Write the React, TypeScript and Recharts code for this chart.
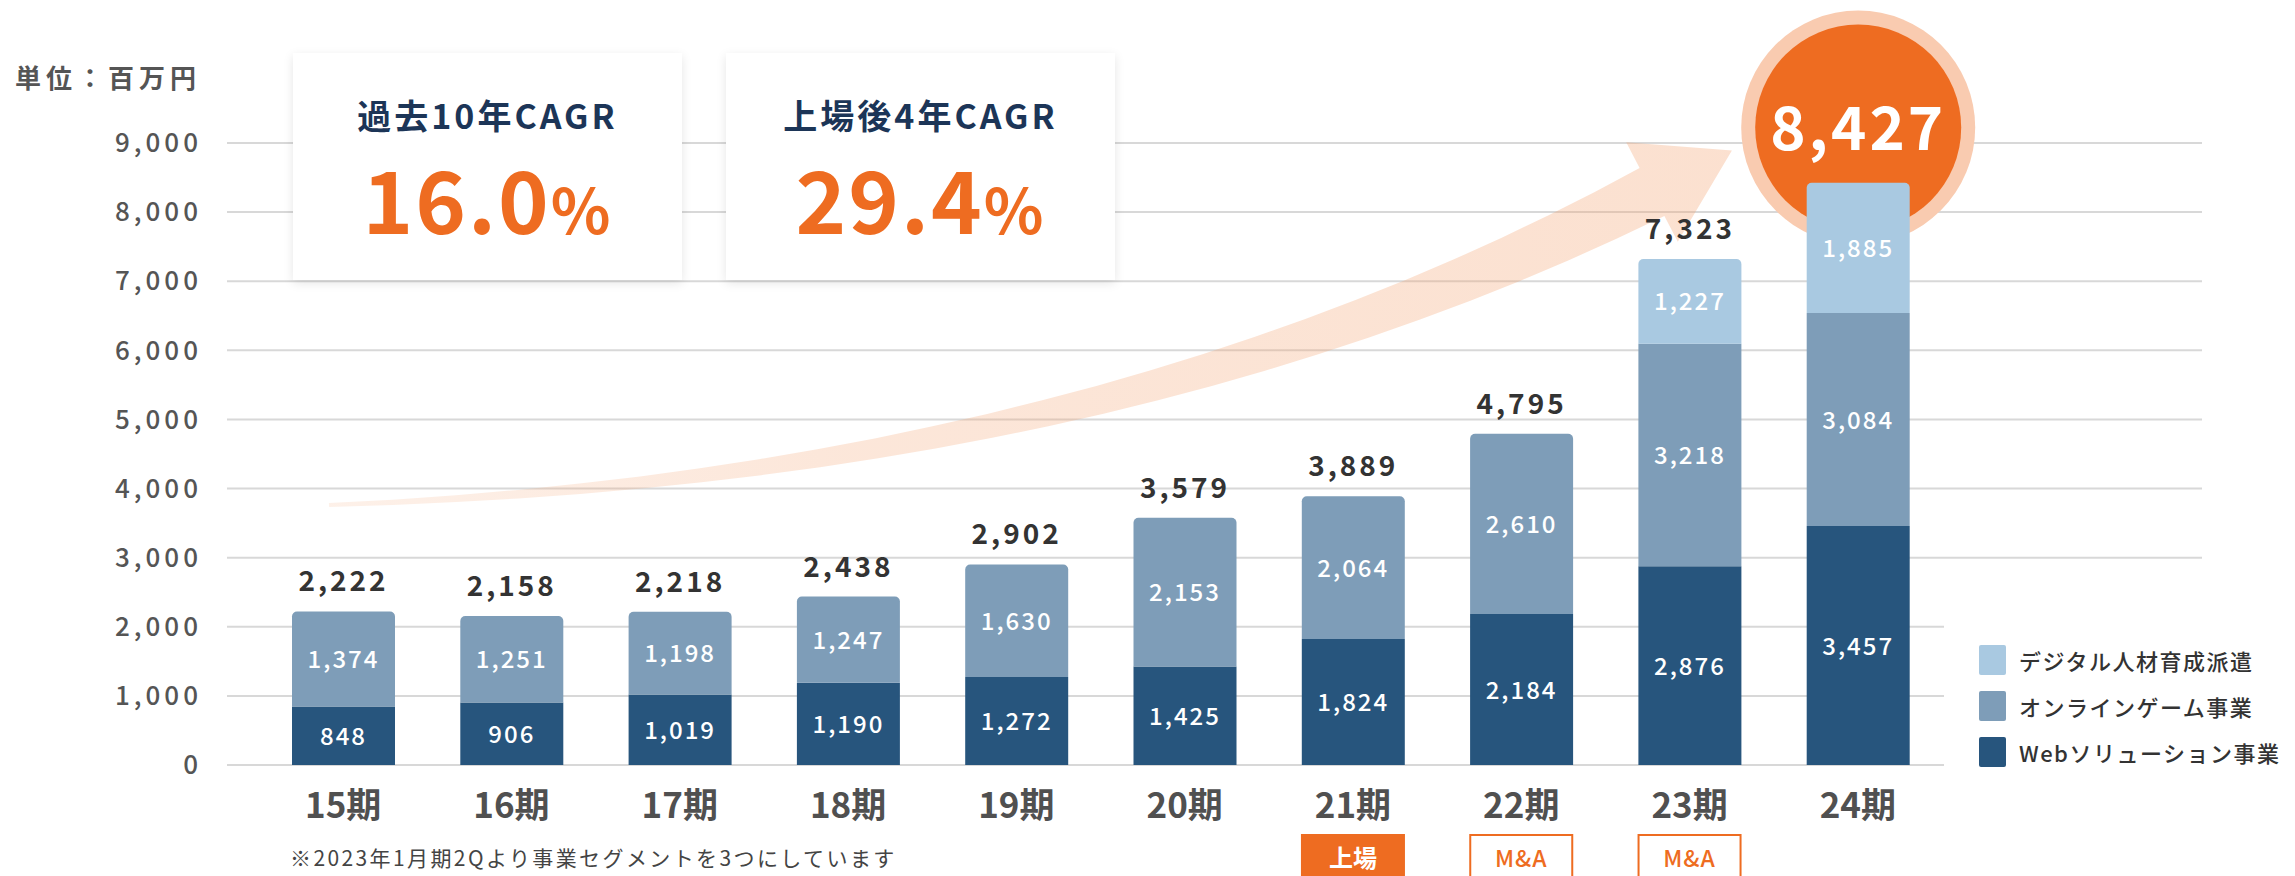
import React from 'react';
import { BarChart, Bar, XAxis, YAxis, CartesianGrid, LabelList, Rectangle } from 'recharts';

const periods = ['15期', '16期', '17期', '18期', '19期', '20期', '21期', '22期', '23期', '24期'];
const webSolution = [848, 906, 1019, 1190, 1272, 1425, 1824, 2184, 2876, 3457];
const onlineGame = [1374, 1251, 1198, 1247, 1630, 2153, 2064, 2610, 3218, 3084];
const digitalTalent = [0, 0, 0, 0, 0, 0, 0, 0, 1227, 1885];
const totals = [2222, 2158, 2218, 2438, 2902, 3579, 3889, 4795, 7323, 8427];
const milestones = ['', '', '', '', '', '', '上場', 'M&A', 'M&A', ''];
const yTicks = [0, 1000, 2000, 3000, 4000, 5000, 6000, 7000, 8000, 9000];

const seriesNames = ['デジタル人材育成派遣', 'オンラインゲーム事業', 'Webソリューション事業'];
const cagrTitles = ['過去10年CAGR', '上場後4年CAGR'];
const cagrValues = ['16.0', '29.4'];

const FONT = '"Noto Sans CJK JP", "Noto Sans", sans-serif';
const C_WEB = '#27557d';
const C_GAME = '#7e9db8';
const C_DIGI = '#a9c9e1';
const ORANGE = '#ee6c21';

const data = periods.map((p, i) => ({
  period: p,
  web: webSolution[i],
  game: onlineGame[i],
  digital: digitalTalent[i],
  total: totals[i],
}));

const fmt = (v: number) => v.toLocaleString('en-US');

// decorative growth arrow (not data)
const arrowPath = () => {
  const P0 = [329, 505], P1 = [1100, 478], P2 = [1652, 192];
  const up: number[][] = [], lo: number[][] = [];
  for (let i = 0; i <= 24; i++) {
    const t = i / 24, mt = 1 - t;
    const x = mt * mt * P0[0] + 2 * mt * t * P1[0] + t * t * P2[0];
    const y = mt * mt * P0[1] + 2 * mt * t * P1[1] + t * t * P2[1];
    const dx = 2 * mt * (P1[0] - P0[0]) + 2 * t * (P2[0] - P1[0]);
    const dy = 2 * mt * (P1[1] - P0[1]) + 2 * t * (P2[1] - P1[1]);
    const len = Math.hypot(dx, dy);
    const nx = -dy / len, ny = dx / len;
    const w = 2 + 25 * Math.pow(t, 1.15);
    up.push([x + nx * w, y + ny * w]);
    lo.push([x - nx * w, y - ny * w]);
  }
  const ex = P2[0] - P1[0], ey = P2[1] - P1[1];
  const el = Math.hypot(ex, ey);
  const dx = ex / el, dy = ey / el, nx = -dy, ny = dx;
  const a = [P2[0] + nx * 56, P2[1] + ny * 56];
  const tip = [P2[0] + dx * 90, P2[1] + dy * 90];
  const b = [P2[0] - nx * 56, P2[1] - ny * 56];
  const pts = [...up, a, tip, b, ...lo.reverse()];
  return 'M' + pts.map((p) => `${p[0].toFixed(1)},${p[1].toFixed(1)}`).join(' L') + ' Z';
};

const WebShape = (props: any) => {
  const { x, y, width, height, index, payload, fill } = props;
  let extra = null;
  if (index === periods.length - 1) {
    const perUnit = height / payload.web;
    const topY = y + height - payload.total * perUnit;
    const cx = x + width / 2;
    const cy = topY - 55;
    extra = (
      <g>
        <defs>
          <linearGradient id="arrowGrad" gradientUnits="userSpaceOnUse" x1={329} y1={505} x2={1730} y2={160}>
            <stop offset="0" stopColor="#f4a574" stopOpacity={0.16} />
            <stop offset="0.35" stopColor="#f4a574" stopOpacity={0.27} />
            <stop offset="1" stopColor="#f4a574" stopOpacity={0.34} />
          </linearGradient>
        </defs>
        <path d={arrowPath()} fill="url(#arrowGrad)" />
        <circle cx={cx} cy={cy} r={117} fill="#f9cbb0" />
        <circle cx={cx} cy={cy} r={103} fill={ORANGE} />
        <text x={cx} y={cy + 22} textAnchor="middle" fill="#fff" fontSize={60} fontWeight={700} letterSpacing={3} fontFamily={FONT}>
          {fmt(payload.total)}
        </text>
      </g>
    );
  }
  return (
    <g>
      {extra}
      <Rectangle x={x} y={y} width={width} height={height} fill={fill} />
    </g>
  );
};

const GameShape = (props: any) => {
  const { x, y, width, height, payload, fill } = props;
  return <Rectangle x={x} y={y} width={width} height={height} fill={fill} radius={payload.digital > 0 ? 0 : [5, 5, 0, 0]} />;
};

const DigiShape = (props: any) => {
  const { x, y, width, height, fill } = props;
  if (!height) return null;
  return <Rectangle x={x} y={y} width={width} height={height} fill={fill} radius={[5, 5, 0, 0]} />;
};

const InnerLabel = (props: any) => {
  const { x, y, width, height, value } = props;
  if (!value) return null;
  return (
    <text x={x + width / 2} y={y + height / 2 + 9} textAnchor="middle" fill="#fff" fontSize={24} fontWeight={500} letterSpacing={2} fontFamily={FONT}>
      {fmt(value)}
    </text>
  );
};

const TotalLabel = (props: any) => {
  const { x, y, width, index } = props;
  if (index === periods.length - 1) return null;
  return (
    <text x={x + width / 2} y={y - 20} textAnchor="middle" fill="#333" fontSize={28} fontWeight={700} letterSpacing={3} fontFamily={FONT}>
      {fmt(totals[index])}
    </text>
  );
};

const PeriodTick = (props: any) => {
  const { x, y, payload, index } = props;
  const m = milestones[index];
  return (
    <g>
      <text x={x} y={y + 53} textAnchor="middle" fill="#505050" fontSize={35} fontWeight={700} fontFamily={FONT}>
        {payload.value}
      </text>
      {m === '上場' && (
        <g>
          <rect x={x - 52} y={y + 69} width={104} height={50} fill={ORANGE} />
          <text x={x} y={y + 102} textAnchor="middle" fill="#fff" fontSize={24} fontWeight={700} fontFamily={FONT}>{m}</text>
        </g>
      )}
      {m === 'M&A' && (
        <g>
          <rect x={x - 51} y={y + 70} width={102} height={50} fill="#fff" stroke={ORANGE} strokeWidth={2} />
          <text x={x} y={y + 102} textAnchor="middle" fill={ORANGE} fontSize={23} fontWeight={500} letterSpacing={1} fontFamily={FONT}>{m}</text>
        </g>
      )}
    </g>
  );
};

const cardStyle: React.CSSProperties = {
  position: 'absolute',
  top: 53,
  width: 389,
  height: 227,
  background: '#fff',
  boxShadow: '0 3px 10px rgba(0,0,0,0.10)',
  textAlign: 'center',
  fontFamily: FONT,
  zIndex: 2,
};

export default function App() {
  const legendColors = [C_DIGI, C_GAME, C_WEB];
  return (
    <div style={{ position: 'absolute', left: 0, top: 0, width: 2295, height: 876, background: '#fff', overflow: 'hidden', fontFamily: FONT }}>
      <div style={{ position: 'absolute', left: 0, top: 0, zIndex: 1 }}>
        <BarChart width={2295} height={876} data={data} margin={{ top: 143, right: 93, bottom: 0, left: 0 }} style={{ fontFamily: FONT }}>
          <CartesianGrid vertical={false} stroke="#d8d8d8" strokeWidth={2} />
          <XAxis
            dataKey="period"
            axisLine={false}
            tickLine={false}
            tickSize={0}
            tickMargin={0}
            height={111}
            interval={0}
            padding={{ left: 32, right: 260 }}
            tick={<PeriodTick />}
          />
          <YAxis
            domain={[0, 9000]}
            ticks={yTicks}
            width={227}
            axisLine={false}
            tickLine={false}
            tickSize={0}
            tickMargin={25}
            tickFormatter={fmt}
            tick={{ fill: '#555', fontSize: 26, fontWeight: 500, letterSpacing: 4, fontFamily: FONT }}
          />
          <Bar dataKey="web" stackId="s" fill={C_WEB} barSize={103} isAnimationActive={false} shape={WebShape}>
            <LabelList dataKey="web" content={InnerLabel} />
          </Bar>
          <Bar dataKey="game" stackId="s" fill={C_GAME} barSize={103} isAnimationActive={false} shape={GameShape}>
            <LabelList dataKey="game" content={InnerLabel} />
          </Bar>
          <Bar dataKey="digital" stackId="s" fill={C_DIGI} barSize={103} isAnimationActive={false} shape={DigiShape}>
            <LabelList dataKey="digital" content={InnerLabel} />
            <LabelList dataKey="total" content={TotalLabel} />
          </Bar>
        </BarChart>
      </div>

      <div style={{ position: 'absolute', left: 15, top: 58, zIndex: 2, fontSize: 26, fontWeight: 700, color: '#555', letterSpacing: 5 }}>
        単位：百万円
      </div>

      {cagrTitles.map((t, i) => (
        <div key={t} style={{ ...cardStyle, left: 293 + i * 433 }}>
          <div style={{ marginTop: 42, fontSize: 34, fontWeight: 700, color: '#1c3557', letterSpacing: 3, lineHeight: '40px' }}>{t}</div>
          <div style={{ marginTop: 12, fontSize: 86, fontWeight: 700, color: ORANGE, letterSpacing: 2, lineHeight: '100px' }}>
            {cagrValues[i]}
            <span style={{ fontSize: 62 }}>%</span>
          </div>
        </div>
      ))}

      <div style={{ position: 'absolute', left: 1944, top: 600, width: 351, height: 175, background: '#fff', zIndex: 2 }}>
        {seriesNames.map((n, i) => (
          <div key={n} style={{ position: 'absolute', left: 35, top: 44 + i * 46, display: 'flex', alignItems: 'center' }}>
            <div style={{ width: 27, height: 30, background: legendColors[i], borderRadius: 2 }} />
            <div style={{ marginLeft: 13, fontSize: 22, fontWeight: 500, color: '#333', letterSpacing: 1.5, whiteSpace: 'nowrap' }}>{n}</div>
          </div>
        ))}
      </div>

      <div style={{ position: 'absolute', left: 290, top: 842, zIndex: 2, fontSize: 21, color: '#444', letterSpacing: 2.4, whiteSpace: 'nowrap' }}>
        ※2023年1月期2Qより事業セグメントを3つにしています
      </div>
    </div>
  );
}
